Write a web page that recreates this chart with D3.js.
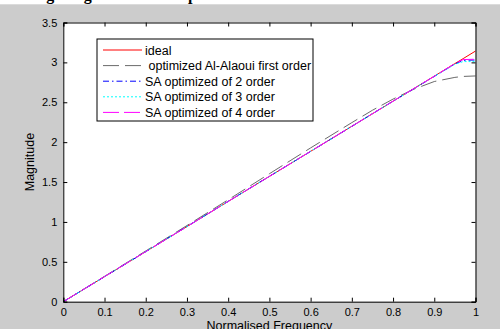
<!DOCTYPE html>
<html>
<head>
<meta charset="utf-8">
<script src="https://cdn.jsdelivr.net/npm/d3@7"></script>
<style>
  body { margin: 0; background: #cccccc; }
  svg { display: block; }
  .tick text { font-family: "Liberation Sans", Arial, sans-serif; font-size: 11px; fill: #000; }
</style>
</head>
<body>
<div id="chart"></div>
<script>
// chart values
const freq   = [0, 0.1, 0.2, 0.3, 0.4, 0.5, 0.6, 0.7, 0.75, 0.8, 0.85, 0.9, 0.95, 0.97, 1.0];
const ideal  = [0, 0.314, 0.628, 0.942, 1.257, 1.571, 1.885, 2.199, 2.356, 2.513, 2.670, 2.827, 2.985, 3.047, 3.142];
const alaoui = [0, 0.318, 0.636, 0.955, 1.278, 1.604, 1.928, 2.245, 2.400, 2.540, 2.663, 2.760, 2.812, 2.824, 2.830];
const sa2    = [0, 0.313, 0.627, 0.943, 1.258, 1.572, 1.884, 2.198, 2.357, 2.514, 2.668, 2.824, 2.980, 3.025, 3.030];
const sa3    = [0, 0.314, 0.629, 0.942, 1.256, 1.570, 1.886, 2.200, 2.355, 2.512, 2.669, 2.825, 2.975, 3.010, 3.010];
const sa4    = [0, 0.315, 0.628, 0.941, 1.257, 1.571, 1.885, 2.199, 2.356, 2.514, 2.670, 2.826, 2.985, 3.035, 3.040];
const seriesNames = ["ideal", " optimized Al-Alaoui first order", "SA optimized of 2 order", "SA optimized of 3 order", "SA optimized of 4 order"];
const xTicks = [0, 0.1, 0.2, 0.3, 0.4, 0.5, 0.6, 0.7, 0.8, 0.9, 1];
const yTicks = [0, 0.5, 1, 1.5, 2, 2.5, 3, 3.5];

const svgWidth = 500;
const svgHeight = 329;
const plot = { left: 63.3, right: 475.5, top: 22.5, bottom: 301.7 };

const svg = d3.select("#chart")
  .append("svg")
  .attr("width", svgWidth)
  .attr("height", svgHeight);

// background: white strip with cut off caption, then figure gray
svg.append("rect").attr("width", svgWidth).attr("height", svgHeight).attr("fill", "#cccccc");
svg.append("rect").attr("width", svgWidth).attr("height", 4.3).attr("fill", "#ffffff");
svg.append("clipPath").attr("id", "capclip")
  .append("rect").attr("width", svgWidth).attr("height", 4.3);
svg.append("text")
  .attr("clip-path", "url(#capclip)")
  .attr("x", 6).attr("y", 0)
  .attr("font-family", "Liberation Serif, Times New Roman, serif")
  .attr("font-weight", "bold")
  .attr("font-size", 16)
  .text("Tuning the gain of the ramp");

const x = d3.scaleLinear().domain([0, 1]).range([plot.left, plot.right]);
const y = d3.scaleLinear().domain([0, 3.5]).range([plot.bottom, plot.top]);

// axes area
svg.append("rect")
  .attr("x", plot.left).attr("y", plot.top)
  .attr("width", plot.right - plot.left).attr("height", plot.bottom - plot.top)
  .attr("fill", "#ffffff");

// lines
const table = freq.map((f, i) => ({ f: f, v: [ideal[i], alaoui[i], sa2[i], sa3[i], sa4[i]] }));
const styles = [
  { color: "#ff0000", dash: null },
  { color: "#6a6a6a", dash: "16,6" },
  { color: "#0000ff", dash: "6,3,1.5,3" },
  { color: "#00ffff", dash: "2,2" },
  { color: "#ff00ff", dash: "16,5" }
];

const lineGroup = svg.append("g");
styles.forEach(function (s, k) {
  const line = d3.line()
    .x(d => x(d.f))
    .y(d => y(d.v[k]));
  lineGroup.append("path")
    .datum(table)
    .attr("fill", "none")
    .attr("stroke", s.color)
    .attr("stroke-width", 1)
    .attr("stroke-dasharray", s.dash)
    .attr("d", line);
});

// axes with inward ticks on all sides
const bottomAxis = d3.axisBottom(x).tickValues(xTicks).tickSize(-4).tickPadding(7).tickFormat(d3.format("~g"));
const topAxis = d3.axisTop(x).tickValues(xTicks).tickSize(-4).tickFormat("");
const leftAxis = d3.axisLeft(y).tickValues(yTicks).tickSize(-4).tickPadding(6).tickFormat(d3.format("~g"));
const rightAxis = d3.axisRight(y).tickValues(yTicks).tickSize(-4).tickFormat("");

svg.append("g").attr("transform", `translate(0, ${plot.bottom})`).call(bottomAxis);
svg.append("g").attr("transform", `translate(0, ${plot.top})`).call(topAxis);
svg.append("g").attr("transform", `translate(${plot.left}, 0)`).call(leftAxis);
svg.append("g").attr("transform", `translate(${plot.right}, 0)`).call(rightAxis);
svg.selectAll(".domain").attr("stroke", "#000").attr("stroke-width", 1);
svg.selectAll(".tick line").attr("stroke", "#000");

// axis titles
svg.append("text")
  .attr("x", (plot.left + plot.right) / 2)
  .attr("y", 330)
  .attr("text-anchor", "middle")
  .attr("font-family", "Liberation Sans, Arial, sans-serif")
  .attr("font-size", 12.5)
  .text("Normalised Frequency");

svg.append("text")
  .attr("transform", `translate(34, ${(plot.top + plot.bottom) / 2}) rotate(-90)`)
  .attr("text-anchor", "middle")
  .attr("font-family", "Liberation Sans, Arial, sans-serif")
  .attr("font-size", 12.5)
  .text("Magnitude");

// legend
const legend = svg.append("g").attr("transform", "translate(97, 39)");
legend.append("rect")
  .attr("width", 216).attr("height", 82)
  .attr("fill", "#ffffff").attr("stroke", "#000").attr("stroke-width", 1);

seriesNames.forEach(function (name, k) {
  const ly = 11 + k * 15.6;
  legend.append("line")
    .attr("x1", 6).attr("x2", 45)
    .attr("y1", ly).attr("y2", ly)
    .attr("stroke", styles[k].color)
    .attr("stroke-width", 1)
    .attr("stroke-dasharray", styles[k].dash);
  legend.append("text")
    .attr("x", 48).attr("y", ly + 4.5)
    .attr("font-family", "Liberation Sans, Arial, sans-serif")
    .attr("font-size", 12.5)
    .style("white-space", "pre")
    .text(name);
});
</script>
</body>
</html>
